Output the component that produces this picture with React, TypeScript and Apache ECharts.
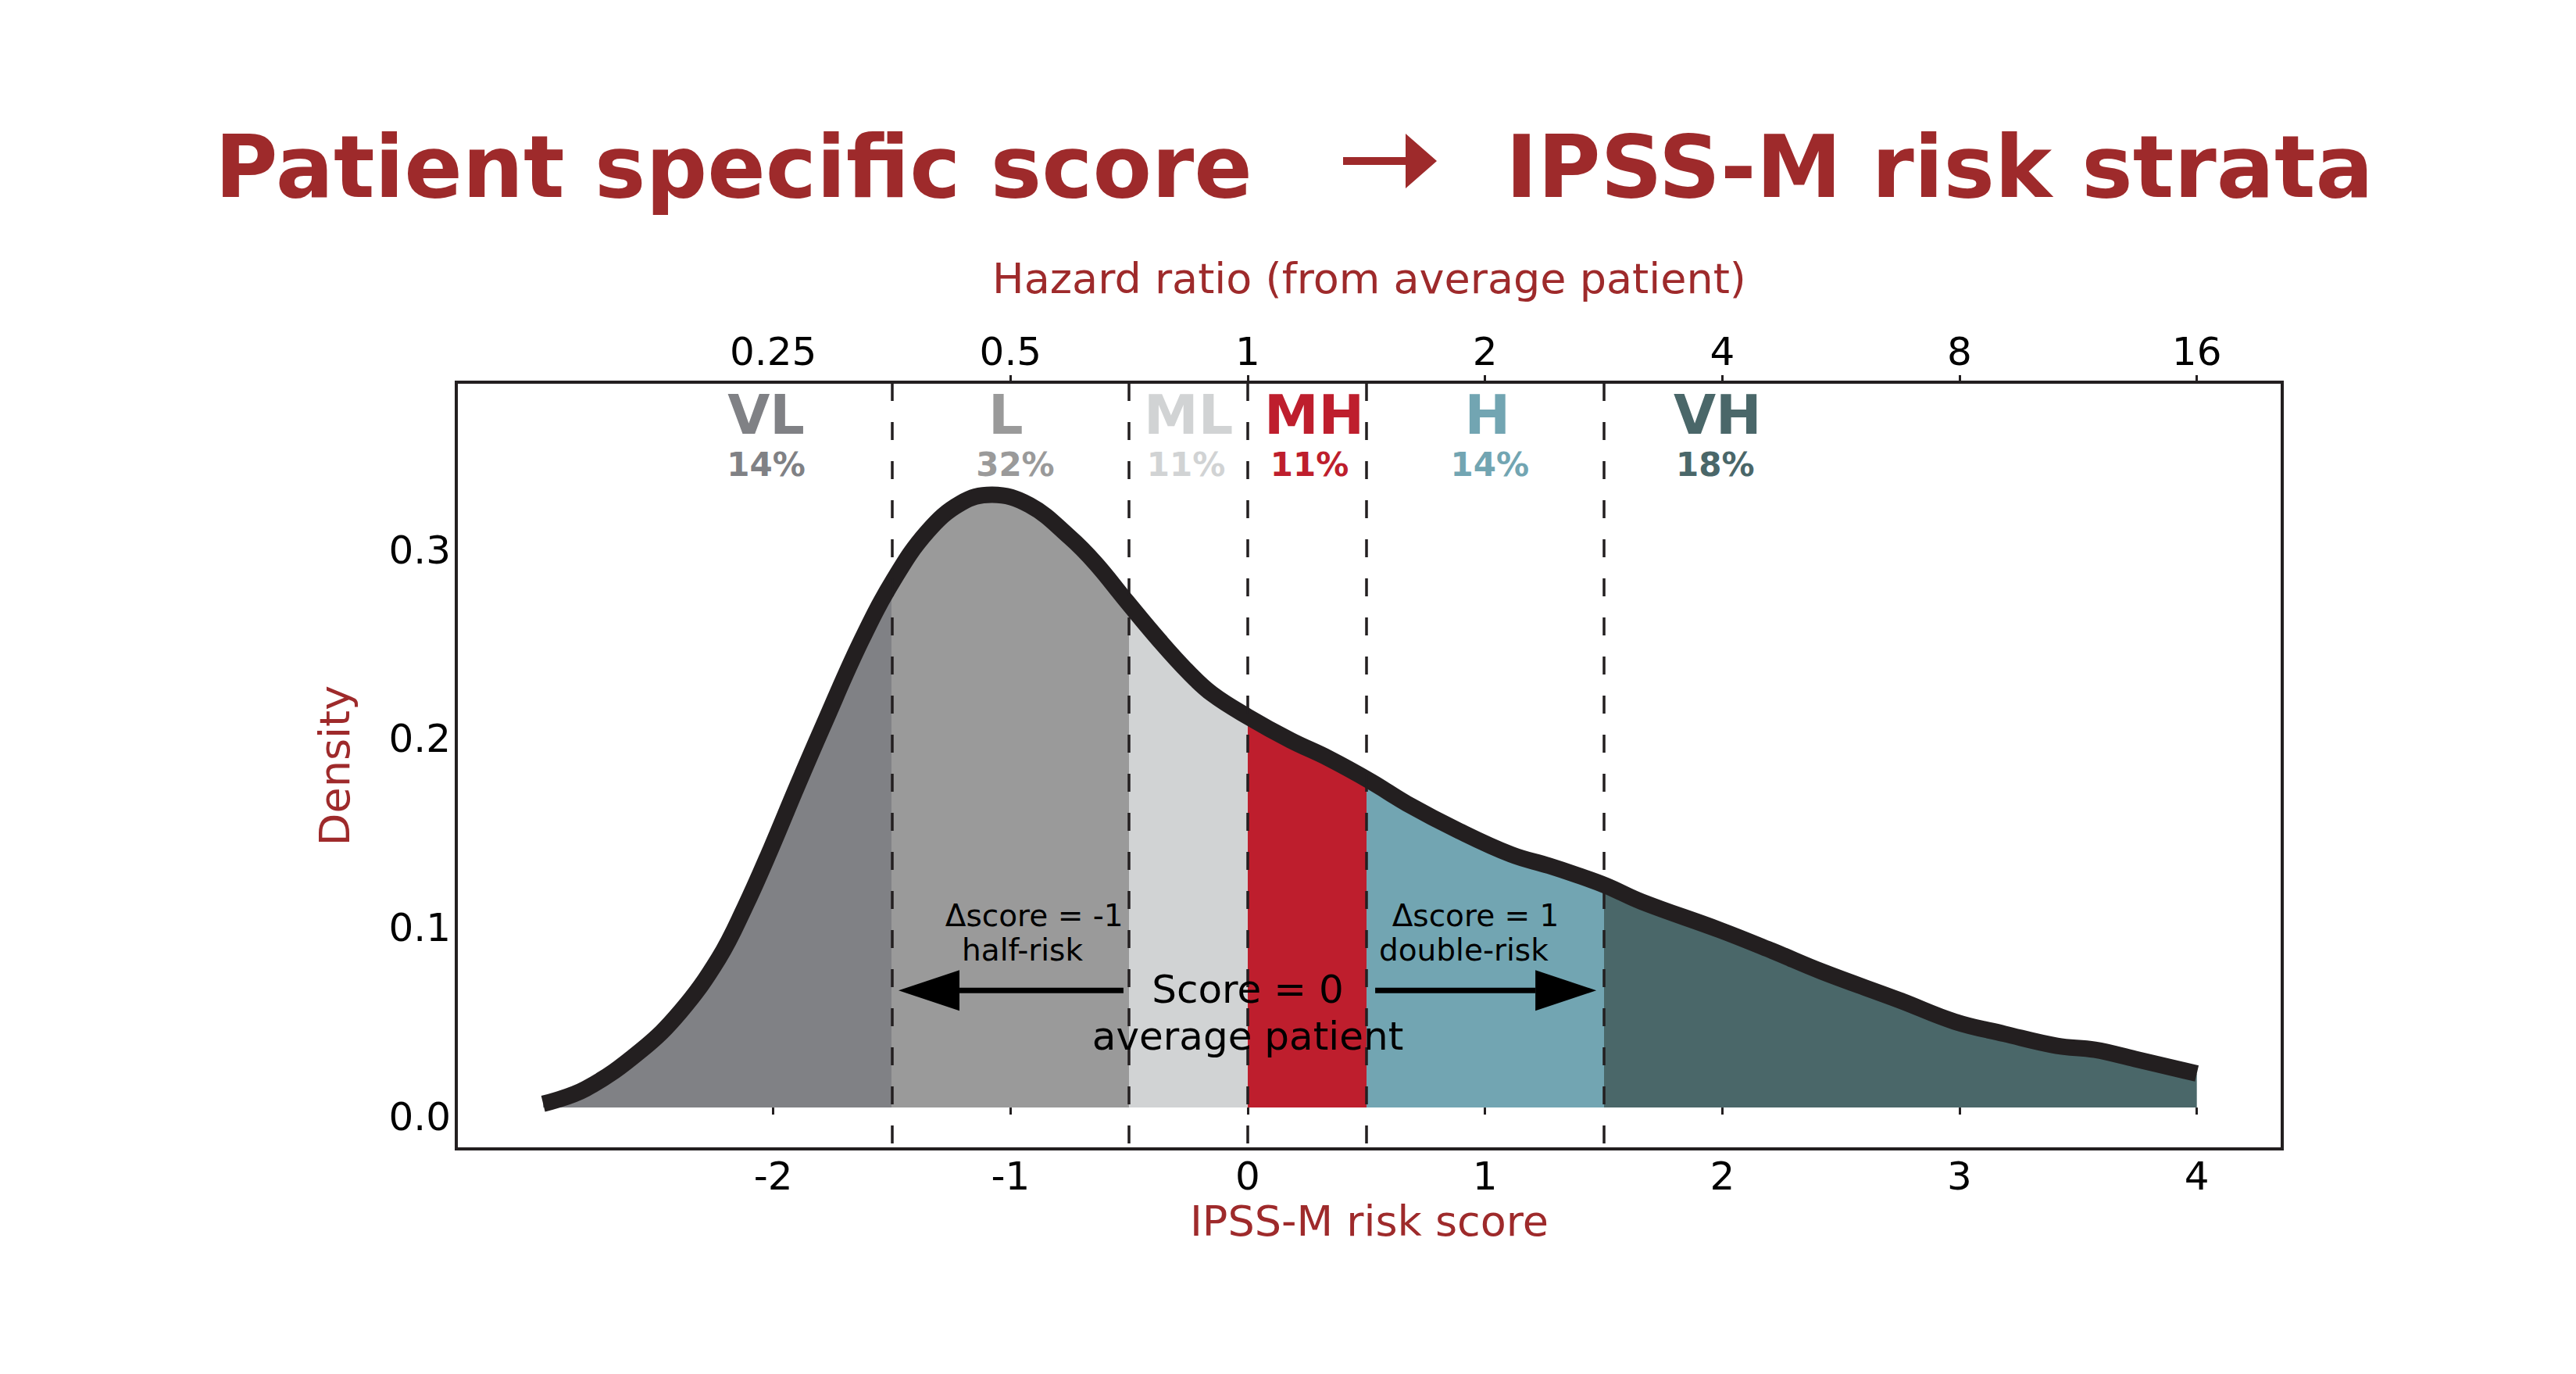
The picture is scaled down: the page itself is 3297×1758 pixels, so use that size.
import { useEffect, useRef } from "react";
import * as echarts from "echarts";

// density curve of the IPSS-M risk score
const scores = [
  -2.97, -2.79, -2.56, -2.39, -2.23, -2.12, -2.01, -1.9, -1.79, -1.63, -1.49, -1.35, -1.21, -1.08,
  -0.92, -0.75, -0.64, -0.51, -0.37, -0.25, -0.15, 0, 0.18, 0.34, 0.52, 0.67, 0.89, 1.11, 1.27,
  1.39, 1.51, 1.66, 1.99, 2.21, 2.42, 2.75, 2.98, 3.19, 3.41, 3.57, 3.74, 4.0,
];
const density = [
  0.002, 0.01, 0.03, 0.051, 0.079, 0.106, 0.137, 0.17, 0.202, 0.247, 0.28, 0.305, 0.32, 0.3245,
  0.319, 0.302, 0.288, 0.268, 0.247, 0.2305, 0.219, 0.207, 0.1945, 0.185, 0.1726, 0.161, 0.1465,
  0.134, 0.128, 0.123, 0.1175, 0.109, 0.094, 0.083, 0.072, 0.0567, 0.0455, 0.039, 0.0327, 0.0306,
  0.0257, 0.018,
];

const cutoffs = [-1.5, -0.5, 0, 0.5, 1.5];
const groups = ["VL", "L", "ML", "MH", "H", "VH"];
const shares = ["14%", "32%", "11%", "11%", "14%", "18%"];
const bandColors = ["#808185", "#9a9a9a", "#d1d3d4", "#be1e2d", "#72a5b2", "#4a6769"];

const scoreTicks = [-2, -1, 0, 1, 2, 3, 4];
const hazardTicks = [0.25, 0.5, 1, 2, 4, 8, 16];
const densityTicks = [0, 0.1, 0.2, 0.3];

// where the group names sit (score units)
const groupLabelX = [-2.03, -1.02, -0.25, 0.28, 1.01, 1.98];
const shareLabelX = [-2.03, -0.98, -0.26, 0.26, 1.02, 1.97];

// [from, to, density]
const arrows = [
  [-0.524, -1.472, 0.062],
  [0.537, 1.469, 0.062],
];
const notes = [
  { text: "Δscore = -1", x: -0.9, y: 0.1015, size: 39 },
  { text: "half-risk", x: -0.95, y: 0.0835, size: 39 },
  { text: "Δscore = 1", x: 0.96, y: 0.1015, size: 39 },
  { text: "double-risk", x: 0.91, y: 0.0835, size: 39 },
  { text: "Score = 0", x: 0.0, y: 0.0625, size: 50 },
  { text: "average patient", x: 0.0, y: 0.0375, size: 50 },
];

const RED = "#9e2a2b";
const INK = "#231f20";
const FONT = "DejaVu Sans";

export default function App() {
  const ref = useRef<HTMLDivElement | null>(null);

  useEffect(() => {
    if (!ref.current) return;
    const chart = echarts.init(ref.current, undefined, { renderer: "svg" });

    const pieces = bandColors.map((color, i) => {
      const p: any = { color };
      if (i > 0) p.gte = cutoffs[i - 1];
      if (i < cutoffs.length) p.lt = cutoffs[i];
      return p;
    });
    const curve = scores.map((s, i) => [s, density[i]]);
    const hidden = { color: "transparent", opacity: 1 };

    chart.setOption({
      animation: false,
      backgroundColor: "#fff",
      textStyle: { fontFamily: FONT },
      grid: {
        left: 584,
        top: 489,
        width: 2337,
        height: 981,
        show: true,
        borderColor: INK,
        borderWidth: 4,
      },
      xAxis: [
        {
          type: "value",
          min: -3.336,
          max: 4.36,
          position: "bottom",
          name: "IPSS-M risk score",
          nameLocation: "middle",
          nameGap: 65,
          nameTextStyle: { color: RED, fontSize: 54 },
          axisLine: { show: false },
          splitLine: { show: false },
          axisTick: { customValues: scoreTicks, length: 9, lineStyle: { color: INK, width: 3 } },
          axisLabel: { customValues: scoreTicks, color: "#000", fontSize: 50, margin: 10 },
        },
        {
          type: "value",
          min: -3.336,
          max: 4.36,
          position: "top",
          name: "Hazard ratio (from average patient)",
          nameLocation: "middle",
          nameGap: 106,
          nameTextStyle: { color: RED, fontSize: 54 },
          axisLine: { show: false },
          splitLine: { show: false },
          axisTick: {
            customValues: hazardTicks.slice(1).map((h) => Math.log2(h)),
            length: 9,
            lineStyle: { color: INK, width: 3 },
          },
          axisLabel: {
            customValues: hazardTicks.map((h) => Math.log2(h)),
            formatter: (v: number) => String(Math.pow(2, v)),
            color: "#000",
            fontSize: 50,
            margin: 14,
          },
        },
      ],
      yAxis: {
        type: "value",
        min: -0.0219,
        max: 0.3841,
        name: "Density",
        nameLocation: "middle",
        nameGap: 129,
        nameRotate: 90,
        nameTextStyle: { color: RED, fontSize: 54 },
        axisLine: { show: false },
        axisTick: { show: false },
        splitLine: { show: false },
        axisLabel: {
          customValues: densityTicks,
          formatter: (v: number) => v.toFixed(1),
          color: "#000",
          fontSize: 50,
          margin: 7,
          verticalAlign: "top",
          lineHeight: 23,
        },
      },
      visualMap: {
        type: "piecewise",
        show: false,
        dimension: 0,
        seriesIndex: 0,
        pieces,
      },
      series: [
        {
          type: "line",
          data: curve,
          smooth: 0.4,
          showSymbol: false,
          silent: true,
          lineStyle: { width: 0 },
          areaStyle: { opacity: 1 },
          z: 1,
          markLine: {
            silent: true,
            symbol: "none",
            label: { show: false },
            lineStyle: { type: [23, 27], dashOffset: 43, color: INK, width: 3.5 },
            data: cutoffs.map((c) => ({ xAxis: c })),
          },
        },
        {
          type: "line",
          data: curve,
          smooth: 0.4,
          showSymbol: false,
          silent: true,
          lineStyle: { width: 21, color: INK, cap: "butt" },
          z: 3,
        },
        {
          type: "scatter",
          silent: true,
          symbolSize: 1,
          itemStyle: hidden,
          label: { show: true, position: "inside", formatter: "{b}", fontSize: 70, fontWeight: "bold", opacity: 1 },
          data: groups.map((g, i) => ({
            value: [groupLabelX[i], 0.3667],
            name: g,
            label: { color: bandColors[i] },
          })),
          z: 5,
        },
        {
          type: "scatter",
          silent: true,
          symbolSize: 1,
          itemStyle: hidden,
          label: { show: true, position: "inside", formatter: "{b}", fontSize: 42, fontWeight: "bold", opacity: 1 },
          data: shares.map((s, i) => ({
            value: [shareLabelX[i], 0.3406],
            name: s,
            label: { color: bandColors[i] },
          })),
          z: 5,
        },
        {
          type: "scatter",
          silent: true,
          symbolSize: 1,
          itemStyle: hidden,
          label: { show: true, position: "inside", formatter: "{b}", color: "#000", opacity: 1 },
          data: notes.map((n) => ({
            value: [n.x, n.y],
            name: n.text,
            label: { fontSize: n.size, lineHeight: n.size },
          })),
          z: 6,
        },
        {
          type: "custom",
          silent: true,
          z: 6,
          data: arrows,
          encode: { x: [0, 1], y: 2 },
          renderItem: (_params: any, api: any) => {
            const a = api.coord([api.value(0), api.value(2)]);
            const b = api.coord([api.value(1), api.value(2)]);
            const dir = b[0] > a[0] ? 1 : -1;
            const base = b[0] - dir * 78;
            return {
              type: "group",
              children: [
                {
                  type: "line",
                  shape: { x1: a[0], y1: a[1], x2: base, y2: b[1] },
                  style: { stroke: "#000", lineWidth: 7 },
                },
                {
                  type: "polygon",
                  shape: { points: [[b[0], b[1]], [base, b[1] - 26], [base, b[1] + 26]] },
                  style: { fill: "#000" },
                },
              ],
            };
          },
        },
      ],
      graphic: [
        {
          type: "text",
          x: 275,
          y: 214,
          style: {
            text: "Patient specific score",
            fill: RED,
            fontSize: 110,
            fontWeight: "bold",
            fontFamily: FONT,
            align: "left",
            verticalAlign: "middle",
          },
        },
        {
          type: "polygon",
          shape: {
            points: [
              [1719, 201],
              [1799, 201],
              [1799, 171],
              [1839, 206],
              [1799, 241],
              [1799, 211],
              [1719, 211],
            ],
          },
          style: { fill: RED },
        },
        {
          type: "text",
          x: 1927,
          y: 214,
          style: {
            text: "IPSS-M risk strata",
            fill: RED,
            fontSize: 110,
            fontWeight: "bold",
            fontFamily: FONT,
            align: "left",
            verticalAlign: "middle",
          },
        },
      ],
    });

    return () => chart.dispose();
  }, []);

  return (
    <div
      ref={ref}
      style={{ position: "fixed", left: 0, top: 0, width: "100vw", height: "100vh", background: "#fff" }}
    />
  );
}
